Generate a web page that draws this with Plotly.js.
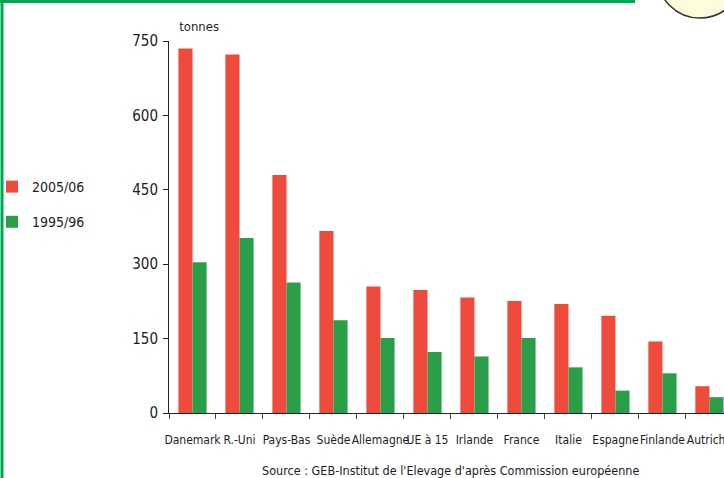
<!DOCTYPE html>
<html>
<head>
<meta charset="utf-8">
<script src="https://cdn.plot.ly/plotly-3.0.1.min.js"></script>
<style>
  html, body { margin: 0; padding: 0; background: #fff; }
  #chart { width: 724px; height: 478px; }
  /* texte étroit */
  #chart text { font-stretch: condensed !important; }
</style>
</head>
<body>
<div id="chart"></div>
<script>
// Pays classés par quantité (tonnes)
const pays = ["Danemark", "R.-Uni", "Pays-Bas", "Suède", "Allemagne", "UE à 15",
              "Irlande", "France", "Italie", "Espagne", "Finlande", "Autriche"];
const valeurs2005 = [735, 723, 480, 367, 255, 248, 233, 226, 220, 196, 144, 54];
const valeurs1995 = [304, 353, 263, 187, 151, 123, 114, 151, 92, 45, 80, 32];
const ticksY = [0, 150, 300, 450, 600, 750];

const police = "'DejaVu Sans', sans-serif";
const couleurTexte = "#1c1c28";

// Zone de tracé : x de 169 à 724 px, y de 41 à 413 px
const W = 724, H = 478, L = 169, T = 41, B = 413;
const pw = W - L, ph = B - T;
const px = v => (v - L) / pw;
const py = v => (B - v) / ph;

const traces = [
  {
    type: "bar", name: "2005/06", x: pays, y: valeurs2005,
    marker: { color: "#ef4b3c" }, legendgroup: "a"
  },
  {
    type: "bar", name: "1995/96", x: pays, y: valeurs1995,
    marker: { color: "#2b9e49" }, legendgroup: "b"
  }
];

const layout = {
  width: W, height: H,
  margin: { l: L, r: 0, t: T, b: H - B, pad: 0, autoexpand: false },
  paper_bgcolor: "#fff", plot_bgcolor: "#fff",
  barmode: "group", bargap: 0.4, bargroupgap: 0,
  font: { family: police, size: 13, color: couleurTexte },
  showlegend: true,
  legend: {
    x: px(-8), y: py(171), xanchor: "left", yanchor: "top",
    traceorder: "grouped", tracegroupgap: 14,
    font: { family: police, size: 14, color: couleurTexte },
    itemwidth: 30, bgcolor: "rgba(0,0,0,0)"
  },
  xaxis: {
    range: [-0.5, 11.31], fixedrange: true, tickangle: 0,
    showline: true, linecolor: "#222", linewidth: 1,
    ticks: "outside", tickson: "boundaries", ticklen: 5, tickcolor: "#444",
    ticklabelstandoff: 16,
    tickfont: { family: police, size: 12, color: couleurTexte },
    showgrid: false, zeroline: false
  },
  yaxis: {
    range: [0, 750], tickvals: ticksY, fixedrange: true,
    showline: true, linecolor: "#222", linewidth: 1,
    ticks: "outside", ticklen: 5, tickcolor: "#222",
    tickfont: { family: police, size: 15, color: couleurTexte },
    ticklabelstandoff: 2,
    showgrid: false, zeroline: false
  },
  annotations: [
    {
      xref: "paper", yref: "paper", x: px(175), y: py(26),
      xanchor: "left", yanchor: "middle", showarrow: false,
      text: "tonnes", font: { family: police, size: 13, color: couleurTexte }
    },
    {
      xref: "paper", yref: "paper", x: px(451), y: py(470),
      xanchor: "center", yanchor: "middle", showarrow: false,
      text: "Source : GEB-Institut de l'Elevage d'après Commission européenne",
      font: { family: police, size: 12.5, color: couleurTexte }
    }
  ],
  shapes: [
    // cadre vert
    { type: "line", xref: "paper", yref: "paper", layer: "above",
      x0: px(0), x1: px(635), y0: py(1.5), y1: py(1.5),
      line: { color: "#00a650", width: 3 } },
    { type: "line", xref: "paper", yref: "paper", layer: "above",
      x0: px(2), x1: px(2), y0: py(0), y1: py(478),
      line: { color: "#00a650", width: 3 } },
    // pastille jaune en haut à droite
    { type: "circle", xref: "paper", yref: "paper", layer: "above",
      x0: px(657), x1: px(743), y0: py(-68), y1: py(18),
      fillcolor: "#fffbdc", line: { color: "#333", width: 1.5 } }
  ]
};

Plotly.newPlot("chart", traces, layout, { displayModeBar: false, staticPlot: true });
</script>
</body>
</html>
